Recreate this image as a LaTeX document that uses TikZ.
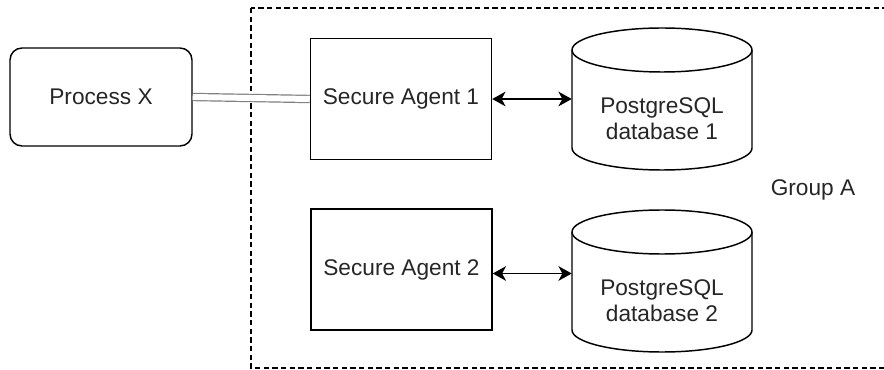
\documentclass[tikz,border=0pt]{standalone}
\usepackage{fontspec}
\setmainfont{Liberation Sans}
\usetikzlibrary{arrows.meta}

\tikzset{
  boxline/.style={draw=black, line width=1.1pt},
  agentbox/.style={boxline, minimum width=135.75pt, minimum height=90.75pt, inner sep=0pt},
  procbox/.style={boxline, rounded corners=9pt, minimum width=136.5pt, minimum height=73.5pt, inner sep=0pt},
  dbnode/.style={minimum width=135pt, minimum height=106.5pt, inner sep=0pt},
  dbtext/.style={align=center, inner sep=0pt},
  link/.style={line width=1.1pt, {Stealth[length=10pt,width=11pt,inset=3pt]}-{Stealth[length=10pt,width=11pt,inset=3pt]}},
  pipe/.style={draw=black!50, line width=0.9pt, double=white, double distance=4.5pt},
  groupline/.style={line width=0.9pt, dash pattern=on 4pt off 2.5pt},
}

\NewDocumentCommand{\dbcyl}{mmm}{%
\begin{scope}[shift={(#2)}]%
\draw[boxline, fill=white] (-90,49) -- (-90,-49) arc[start angle=180, end angle=360, x radius=90, y radius=22] -- (90,49) arc[start angle=0, end angle=180, x radius=90, y radius=22] -- cycle;
\draw[boxline] (-90,49) arc[start angle=180, end angle=360, x radius=90, y radius=22];
\node[dbnode] (#1) at (0,0) {};
\node[dbtext] (#1t) at (0,-20) {#3};
\end{scope}%
}

\begin{document}
\begin{tikzpicture}[x=0.75pt, y=0.75pt, font=\fontsize{17}{19.5}\selectfont, text=black!85]
        \useasboundingbox (0,0) rectangle (884,-370);

        % Group A
        \draw[groupline] (251,-8) rectangle (920,-368);
        \node (grpA) at (813,-190) {Group A};

        % Process X
        \node[procbox] (px) at (101,-97) {Process X};

        % agents
        \node[agentbox] (sa1) at (401,-99) {Secure Agent 1};
        \node[agentbox] (sa2) at (401.5,-269.5) {Secure Agent 2};

        % databases
        \dbcyl{db1}{662,-99}{PostgreSQL\\database 1}
        \dbcyl{db2}{662,-281}{PostgreSQL\\database 2}

        % links
        \draw[pipe] (px.east) -- (sa1.west);
        \draw[link] (sa1) -- (db1);
        \draw[link] ([yshift=-3pt]sa2.east) -- ([yshift=-3pt]sa2.east -| db2.west);
    \end{tikzpicture}
\end{document}
